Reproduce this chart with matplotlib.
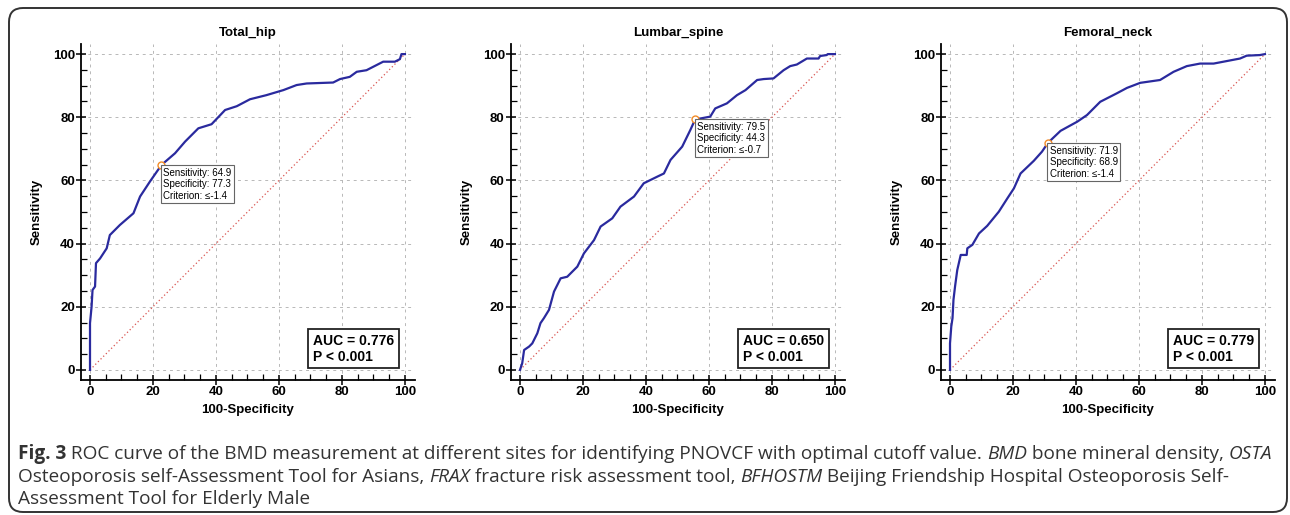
import matplotlib
matplotlib.use("Agg")
import matplotlib.pyplot as plt
from matplotlib.patches import FancyBboxPatch
from matplotlib.transforms import IdentityTransform
from matplotlib.ticker import MultipleLocator

plt.rcParams['font.family'] = ['Liberation Sans', 'DejaVu Sans']

# ROC curves (100-Specificity, Sensitivity)
hip_x = [0, 0, 0.5, 0.8, 1.6, 1.9, 3.2, 5.3, 6.3, 9.5, 13.8, 15.9, 19, 22.7, 27, 30.2, 34.4,
         38.6, 42.9, 46.6, 50.8, 56, 61.4, 65.6, 68.8, 77.2, 79.4, 82.5, 84.7, 87.8, 93.1,
         96.8, 98.4, 98.9, 100]
hip_y = [0, 14.8, 20, 25.3, 26.4, 33.8, 35.3, 38.5, 42.7, 45.9, 49.6, 54.9, 59.6, 64.9, 68.6,
         72.3, 76.5, 77.8, 82.3, 83.5, 85.7, 87, 88.6, 90.2, 90.7, 91, 92.1, 92.8, 94.4, 94.9,
         97.6, 97.6, 98.4, 100, 100]

spine_x = [0, 0.7, 1.3, 2.9, 3.9, 5.5, 6.5, 7.6, 9.2, 10.8, 12.9, 15, 18.2, 20.3, 23.5, 25.6,
           29.3, 31.9, 36.2, 39.3, 43.6, 45.7, 47.8, 51.5, 54.1, 55.7, 57.2, 60.4, 62, 65.7,
           68.9, 71.6, 75.3, 77.4, 80.5, 83.7, 85.8, 87.9, 91.1, 94.8, 95.3, 97.4, 97.7, 100]
spine_y = [0, 2.1, 6.3, 7.4, 8.4, 11.6, 14.8, 16.4, 19, 24.8, 29, 29.5, 32.7, 36.9, 41.1, 45.4,
           48, 51.7, 54.9, 59.1, 61.2, 62.2, 66.5, 70.7, 76, 79.5, 79.6, 80.2, 82.8, 84.4,
           87, 88.6, 91.8, 92.1, 92.3, 94.9, 96.2, 96.7, 98.6, 98.6, 99.4, 99.7, 100, 100]

neck_x = [0, 0, 0.4, 0.8, 1.1, 1.6, 2.3, 3.4, 5.3, 5.5, 7.1, 9.2, 11.8, 15.5, 18.2, 20.3, 22.4,
          26.6, 29.2, 31.1, 35.1, 40.4, 43.5, 47.7, 53, 56.2, 60.4, 64.6, 66.7, 71, 75.2,
          79.4, 83.7, 87.9, 92.1, 94.2, 98.4, 100]
neck_y = [0, 8.4, 13.7, 16.4, 22.2, 26.4, 31.6, 36.4, 36.4, 38.5, 39.6, 43.2, 45.6, 50.1, 54.3,
          57.5, 62.2, 66.2, 69.1, 71.9, 75.7, 78.6, 80.7, 84.9, 87.6, 89.3, 90.9, 91.5, 91.8,
          94.4, 96.2, 97, 97, 97.8, 98.6, 99.5, 99.7, 100]

titles = ["Total_hip", "Lumbar_spine", "Femoral_neck"]
curves = [(hip_x, hip_y), (spine_x, spine_y), (neck_x, neck_y)]
cut_x = [22.7, 55.7, 31.1]
cut_y = [64.9, 79.5, 71.9]
sens = ["64.9", "79.5", "71.9"]
spec = ["77.3", "44.3", "68.9"]
crit = ["\u2264-1.4", "\u2264-0.7", "\u2264-1.4"]
auc = ["0.776", "0.650", "0.779"]

fig = plt.figure(figsize=(12.9, 5.15), dpi=100)

# rounded frame round the whole figure
frame = FancyBboxPatch((9, 3), 1278, 504, boxstyle="round,pad=0,rounding_size=14",
                       transform=IdentityTransform(), fill=False, ec='#333333', lw=1.4)
fig.patches.append(frame)

lefts = [81, 511, 941]
for i in range(3):
    ax = fig.add_axes([lefts[i] / 1290, 135 / 515, 334 / 1290, 336 / 515])
    ax.set_xlim(-2.86, 103.2)
    ax.set_ylim(-3.2, 103.2)
    ax.spines['top'].set_visible(False)
    ax.spines['right'].set_visible(False)
    ax.spines['left'].set_linewidth(1.3)
    ax.spines['bottom'].set_linewidth(1.3)
    ax.xaxis.set_major_locator(MultipleLocator(20))
    ax.yaxis.set_major_locator(MultipleLocator(20))
    ax.xaxis.set_minor_locator(MultipleLocator(5))
    ax.yaxis.set_minor_locator(MultipleLocator(5))
    ax.tick_params(which='major', direction='inout', length=7, width=1.1, labelsize=9.5, pad=1)
    ax.tick_params(which='minor', direction='in', length=4, width=0.9)
    for lab in ax.get_xticklabels() + ax.get_yticklabels():
        lab.set_fontweight('bold')
    ax.grid(True, which='major', color='#b8b8b8', ls=(0, (3, 4)), lw=0.7)
    ax.set_axisbelow(True)

    # chance line
    ax.plot([0, 100], [0, 100], color='#d9534f', ls=(0, (1, 2)), lw=0.9)
    # ROC curve
    ax.plot(curves[i][0], curves[i][1], color='#2a2a9e', lw=1.6, zorder=3)
    # optimal cutoff
    ax.plot(cut_x[i], cut_y[i], 'o', ms=5, mfc='white', mec='#f28c28', mew=1.0, zorder=4)
    ax.text(cut_x[i] + 0.6, cut_y[i] - 0.9,
            "Sensitivity: " + sens[i] + "\nSpecificity: " + spec[i] + "\nCriterion: " + crit[i],
            fontsize=7, va='top', ha='left', linespacing=1.2, zorder=5,
            bbox=dict(boxstyle='square,pad=0.25', fc='white', ec='#666666', lw=0.8))

    ax.text(0.695, 0.093, "AUC = " + auc[i] + "\nP < 0.001", transform=ax.transAxes,
            fontsize=10, fontweight='bold', va='center', ha='left', linespacing=1.15, zorder=5,
            bbox=dict(boxstyle='square,pad=0.35', fc='white', ec='#222222', lw=1.3))

    ax.set_title(titles[i], fontsize=9.5, fontweight='bold', pad=6)
    ax.set_ylabel("Sensitivity", fontsize=9.5, fontweight='bold', labelpad=7)
    ax.set_xlabel("100-Specificity", fontsize=9.5, fontweight='bold', labelpad=4)

# caption with mixed styles
cap_font = ['Open Sans', 'DejaVu Sans']
cap_col = '#333333'
renderer = fig.canvas.get_renderer()

line1 = [("Fig. 3", 'bold', 'normal'),
         (" ROC curve of the BMD measurement at different sites for identifying PNOVCF with optimal cutoff value. ", 'normal', 'normal'),
         ("BMD", 'normal', 'italic'),
         (" bone mineral density, ", 'normal', 'normal'),
         ("OSTA", 'normal', 'italic')]
line2 = [("Osteoporosis self-Assessment Tool for Asians, ", 'normal', 'normal'),
         ("FRAX", 'normal', 'italic'),
         (" fracture risk assessment tool, ", 'normal', 'normal'),
         ("BFHOSTM", 'normal', 'italic'),
         (" Beijing Friendship Hospital Osteoporosis Self-", 'normal', 'normal')]
line3 = [("Assessment Tool for Elderly Male", 'normal', 'normal')]


def put_line(x, y, parts, size, draw=True):
    # place the pieces one after another, returns right edge in pixels
    for s, weight, style in parts:
        t = fig.text(x / 1290, y / 515, s.replace(' ', '\u00a0'), fontsize=size, family=cap_font,
                     fontweight=weight, fontstyle=style, color=cap_col, va='baseline')
        bb = t.get_window_extent(renderer=renderer)
        # width of the text with its spaces: measure it with a guard glyph on each end
        g = fig.text(0, 0, "|" + s.replace(' ', '\u00a0') + "|", fontsize=size, family=cap_font,
                     fontweight=weight, fontstyle=style)
        g0 = fig.text(0, 0, "||", fontsize=size, family=cap_font, fontweight=weight, fontstyle=style)
        w = g.get_window_extent(renderer=renderer).width - g0.get_window_extent(renderer=renderer).width
        g.remove()
        g0.remove()
        if not draw:
            t.remove()
        x += w
    return x


# fit the first caption line to the width it has in the picture
cap_size = 12.0
for k in range(3):
    right = put_line(18, 0, line1, cap_size, draw=False)
    cap_size = cap_size * (1283 - 18) / (right - 18)

put_line(18, 515 - 459, line1, cap_size)
put_line(18, 515 - 482, line2, cap_size)
put_line(18, 515 - 504, line3, cap_size)

fig.savefig("out.png", dpi=100)
